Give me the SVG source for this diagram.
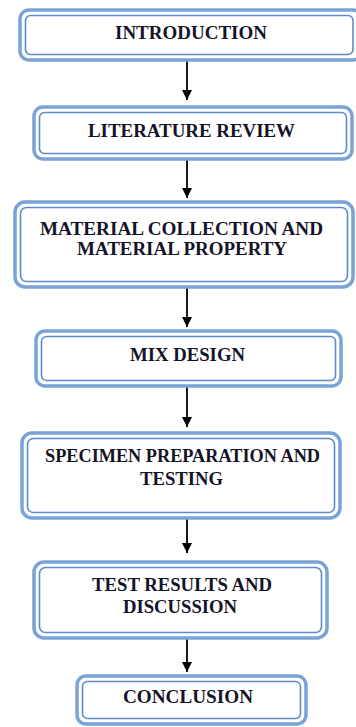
<svg xmlns="http://www.w3.org/2000/svg" width="356" height="727" viewBox="0 0 356 727">
<style>
.o{fill:#fff;stroke:#7aa3d8;stroke-width:3.5}
.i{fill:none;stroke:#5b8bcb;stroke-width:1.6}
.t{font-family:"Liberation Serif","Times New Roman",serif;font-weight:bold;font-size:18.5px;fill:#141428;text-anchor:middle}
.c line{stroke:#000;stroke-width:1.8;marker-end:url(#ah)}
</style>
<defs>
<marker id="ah" markerUnits="userSpaceOnUse" markerWidth="12" markerHeight="12" refX="10" refY="5" orient="auto">
<path d="M0,0 L10,5 L0,10 Z" fill="#000"/>
</marker>
</defs>
<rect width="356" height="727" fill="#fff"/>
<g class="c" id="connectors">
<line x1="187" y1="61" x2="187" y2="100"/>
<line x1="187" y1="160" x2="187" y2="198"/>
<line x1="187" y1="288" x2="187" y2="327"/>
<line x1="187" y1="387" x2="187" y2="427"/>
<line x1="187" y1="519" x2="187" y2="553"/>
<line x1="187" y1="639" x2="187" y2="672"/>
</g>
<g id="n1">
<rect class="o" x="20" y="10" width="342" height="50" rx="9"/>
<rect class="i" x="25.5" y="15.5" width="327.5" height="39" rx="5"/>
<text class="t" x="191" y="39" textLength="152" lengthAdjust="spacingAndGlyphs">INTRODUCTION</text>
</g>
<g id="n2">
<rect class="o" x="34" y="107" width="318" height="52" rx="9"/>
<rect class="i" x="39.5" y="112.5" width="307" height="41" rx="5"/>
<text class="t" x="191.5" y="137" textLength="207" lengthAdjust="spacingAndGlyphs">LITERATURE REVIEW</text>
</g>
<g id="n3">
<rect class="o" x="15" y="202" width="338" height="85" rx="10"/>
<rect class="i" x="20.5" y="207.5" width="327" height="74" rx="6"/>
<text class="t" x="181.5" y="235" textLength="283" lengthAdjust="spacingAndGlyphs">MATERIAL COLLECTION AND</text>
<text class="t" x="182" y="255" textLength="210" lengthAdjust="spacingAndGlyphs">MATERIAL PROPERTY</text>
</g>
<g id="n4">
<rect class="o" x="36" y="331" width="305" height="55" rx="9"/>
<rect class="i" x="41.5" y="336.5" width="294" height="44" rx="5"/>
<text class="t" x="187.5" y="361" textLength="115" lengthAdjust="spacingAndGlyphs">MIX DESIGN</text>
</g>
<g id="n5">
<rect class="o" x="22" y="433" width="318" height="85" rx="10"/>
<rect class="i" x="27.5" y="438.5" width="307" height="74" rx="6"/>
<text class="t" x="182.5" y="462" textLength="275" lengthAdjust="spacingAndGlyphs">SPECIMEN PREPARATION AND</text>
<text class="t" x="181.5" y="485" textLength="83" lengthAdjust="spacingAndGlyphs">TESTING</text>
</g>
<g id="n6">
<rect class="o" x="34" y="562" width="293" height="76" rx="10"/>
<rect class="i" x="39.5" y="567.5" width="282" height="65" rx="6"/>
<text class="t" x="182" y="591" textLength="180" lengthAdjust="spacingAndGlyphs">TEST RESULTS AND</text>
<text class="t" x="180" y="613" textLength="114" lengthAdjust="spacingAndGlyphs">DISCUSSION</text>
</g>
<g id="n7">
<rect class="o" x="77" y="676" width="229" height="48" rx="9"/>
<rect class="i" x="82.5" y="681.5" width="218" height="37" rx="5"/>
<text class="t" x="188" y="703" textLength="130" lengthAdjust="spacingAndGlyphs">CONCLUSION</text>
</g>
</svg>
